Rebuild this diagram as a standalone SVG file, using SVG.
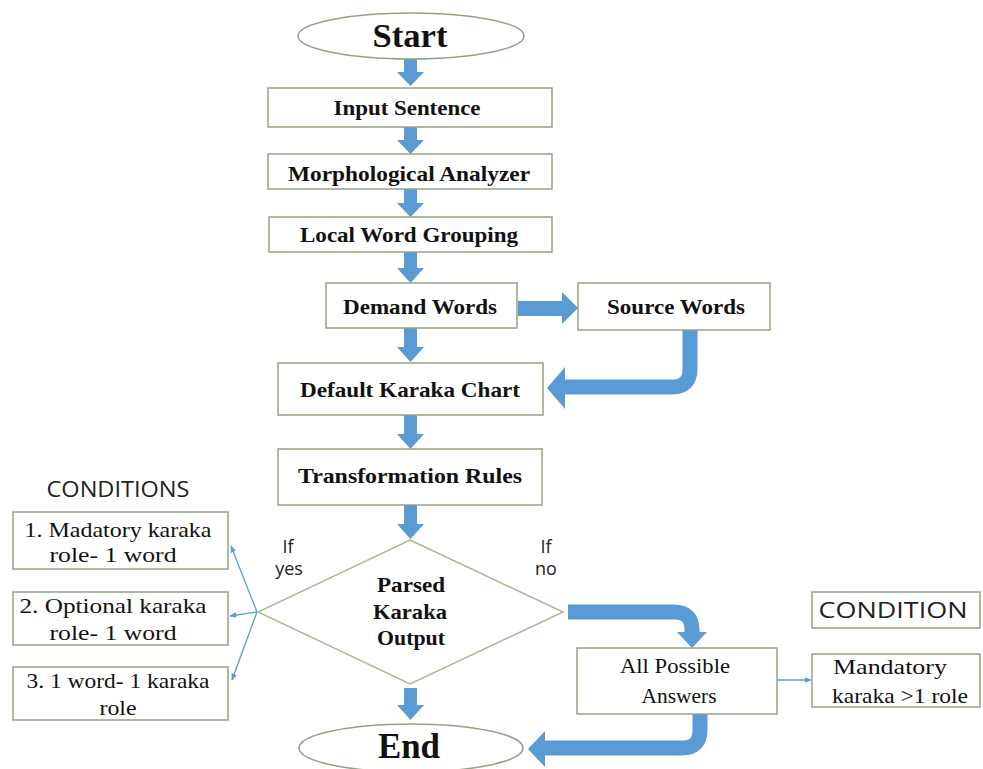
<svg xmlns="http://www.w3.org/2000/svg" width="983" height="769" viewBox="0 0 983 769">
<style>
.box{fill:#fff;stroke:#93a382;stroke-width:1.5}
.b{font-family:"Liberation Serif",serif;font-weight:bold;font-size:21px;fill:#111;text-anchor:middle}
.r{font-family:"Liberation Serif",serif;font-size:22px;fill:#111;text-anchor:middle}
.s{font-family:"Open Sans","Liberation Sans",sans-serif;font-size:21px;fill:#222;text-anchor:middle}
.sl{font-family:"Open Sans","Liberation Sans",sans-serif;font-size:18px;fill:#222;text-anchor:middle}
.ar{fill:#5b9bd5}
.th{fill:none;stroke:#5b9bd5;stroke-width:15}
.thin{fill:none;stroke:#5b9bd5;stroke-width:1.3}
</style>
<defs>
<marker id="ah" viewBox="0 0 10 10" refX="9" refY="5" markerWidth="7" markerHeight="7" orient="auto" markerUnits="userSpaceOnUse">
<path d="M0,1 L10,5 L0,9 z" fill="#5b9bd5"/>
</marker>
</defs>
<rect width="983" height="769" fill="#fff"/>
<g id="connectors">
<path class="ar" d="M404,58 H417 V72 H424 L410.5,86 L397,72 H404 z"/>
<path class="ar" d="M404,127 H417 V140 H424 L410.5,154 L397,140 H404 z"/>
<path class="ar" d="M404,189 H417 V203 H424 L410.5,217 L397,203 H404 z"/>
<path class="ar" d="M404,252 H417 V268 H424 L410.5,283 L397,268 H404 z"/>
<path class="ar" d="M404,328 H417 V347 H424 L410.5,362 L397,347 H404 z"/>
<path class="ar" d="M404,415 H417 V434 H424 L410.5,449 L397,434 H404 z"/>
<path class="ar" d="M404,505 H417 V524 H424 L410.5,539 L397,524 H404 z"/>
<path class="ar" d="M404,688 H417 V705 H424 L410.5,720 L397,705 H404 z"/>
<path class="ar" d="M518,301 H562 V292 L578,308 L562,324 V316 H518 z"/>
<path class="th" d="M690,330 V369 Q690,387 672,387 H563"/>
<path class="ar" d="M565,367 L547,388 L565,409 z"/>
<path class="th" d="M568,612 H674 Q692,612 692,630 V633"/>
<path class="ar" d="M677,632 L707,632 L692,648 z"/>
<path class="th" d="M700,714 V730 Q700,748 682,748 H543"/>
<path class="ar" d="M545,731 L528,749 L545,767 z"/>
<path class="thin" d="M257,612 L231,546" marker-end="url(#ah)"/>
<path class="thin" d="M257,612 L230,616" marker-end="url(#ah)"/>
<path class="thin" d="M257,612 L232,680" marker-end="url(#ah)"/>
<path class="thin" d="M777,680 L811,680" marker-end="url(#ah)"/>
</g>
<g id="start">
<ellipse cx="411" cy="36" rx="113" ry="23" fill="#fff" stroke="#93a382" stroke-width="1.5"/>
<text class="b" x="410" y="47" style="font-size:33px" textLength="75" lengthAdjust="spacingAndGlyphs">Start</text>
</g>
<g id="input">
<rect class="box" x="268" y="88" width="284" height="39"/>
<text class="b" x="407" y="115" textLength="147" lengthAdjust="spacingAndGlyphs">Input  Sentence</text>
</g>
<g id="morph">
<rect class="box" x="268" y="154" width="284" height="35"/>
<text class="b" x="409" y="181" textLength="242" lengthAdjust="spacingAndGlyphs">Morphological  Analyzer</text>
</g>
<g id="lwg">
<rect class="box" x="269" y="217" width="283" height="35"/>
<text class="b" x="409" y="242" textLength="218" lengthAdjust="spacingAndGlyphs">Local Word  Grouping</text>
</g>
<g id="demand">
<rect class="box" x="326" y="283" width="191" height="45"/>
<text class="b" x="420" y="314" textLength="154" lengthAdjust="spacingAndGlyphs">Demand Words</text>
</g>
<g id="source">
<rect class="box" x="578" y="283" width="192" height="47"/>
<text class="b" x="676" y="314" textLength="138" lengthAdjust="spacingAndGlyphs">Source Words</text>
</g>
<g id="default">
<rect class="box" x="278" y="363" width="265" height="52"/>
<text class="b" x="410" y="397" textLength="220" lengthAdjust="spacingAndGlyphs">Default Karaka Chart</text>
</g>
<g id="transform">
<rect class="box" x="278" y="449" width="264" height="56"/>
<text class="b" x="410" y="483" textLength="224" lengthAdjust="spacingAndGlyphs">Transformation  Rules</text>
</g>
<g id="decision">
<polygon points="410,540 563,612 410,684 258,612" fill="#fff" stroke="#a9ba95" stroke-width="1.5"/>
<text class="b" x="411" y="592" textLength="68" lengthAdjust="spacingAndGlyphs">Parsed</text>
<text class="b" x="410" y="619" textLength="74" lengthAdjust="spacingAndGlyphs">Karaka</text>
<text class="b" x="411" y="645" textLength="68" lengthAdjust="spacingAndGlyphs">Output</text>
</g>
<g id="end">
<ellipse cx="411" cy="748" rx="112" ry="24" fill="#fff" stroke="#93a382" stroke-width="1.5"/>
<text class="b" x="409" y="758" style="font-size:36px" textLength="62" lengthAdjust="spacingAndGlyphs">End</text>
</g>
<g id="labels">
<text class="s" x="118" y="497" textLength="143" lengthAdjust="spacingAndGlyphs">CONDITIONS</text>
<text class="sl" x="288" y="553">If</text>
<text class="sl" x="289" y="575">yes</text>
<text class="sl" x="546" y="553">If</text>
<text class="sl" x="546" y="575">no</text>
</g>
<g id="cond1">
<rect class="box" x="13" y="512" width="215" height="57"/>
<text class="r" x="118" y="537" textLength="187" lengthAdjust="spacingAndGlyphs">1. Madatory karaka</text>
<text class="r" x="113" y="562" textLength="127" lengthAdjust="spacingAndGlyphs">role- 1 word</text>
</g>
<g id="cond2">
<rect class="box" x="13" y="592" width="215" height="53"/>
<text class="r" x="113" y="613" textLength="187" lengthAdjust="spacingAndGlyphs">2. Optional  karaka</text>
<text class="r" x="113" y="640" textLength="127" lengthAdjust="spacingAndGlyphs">role- 1 word</text>
</g>
<g id="cond3">
<rect class="box" x="13" y="667" width="215" height="53"/>
<text class="r" x="118" y="688" textLength="183" lengthAdjust="spacingAndGlyphs">3. 1 word- 1 karaka</text>
<text class="r" x="118" y="715" textLength="37" lengthAdjust="spacingAndGlyphs">role</text>
</g>
<g id="allpossible">
<rect class="box" x="577" y="648" width="200" height="66"/>
<text class="r" x="675" y="673" textLength="110" lengthAdjust="spacingAndGlyphs">All Possible</text>
<text class="r" x="679" y="703" textLength="75" lengthAdjust="spacingAndGlyphs">Answers</text>
</g>
<g id="condition">
<rect class="box" x="812" y="592" width="168" height="36"/>
<text class="s" x="893" y="618" textLength="149" lengthAdjust="spacingAndGlyphs">CONDITION</text>
</g>
<g id="mandatory">
<rect class="box" x="812" y="654" width="168" height="53"/>
<text class="r" x="890" y="674" textLength="114" lengthAdjust="spacingAndGlyphs">Mandatory</text>
<text class="r" x="900" y="703" textLength="136" lengthAdjust="spacingAndGlyphs">karaka &gt;1 role</text>
</g>
</svg>
